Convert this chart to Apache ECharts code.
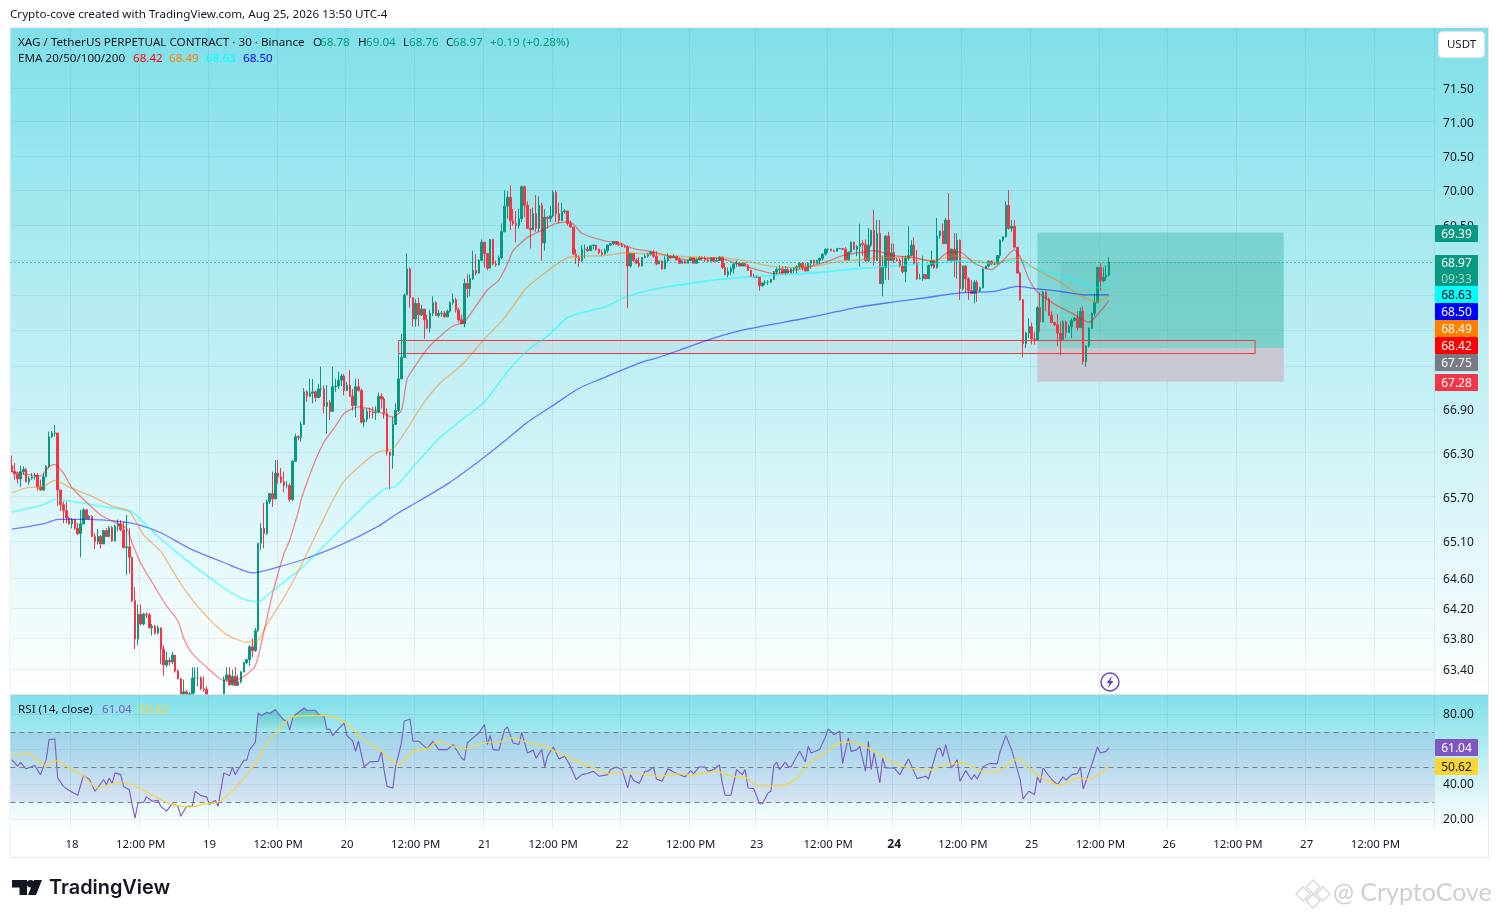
<!DOCTYPE html>
<html><head><meta charset="utf-8">
<style>html,body{margin:0;padding:0;background:#fff}#c{width:1498px;height:918px}</style>
<script src="https://cdn.jsdelivr.net/npm/echarts@6/dist/echarts.min.js"></script>
</head><body><div id="c"></div>
<script>
const firstOpen = 66.12;
const closes = [66.04,66.01,65.94,66.04,66.07,65.90,65.95,65.97,65.99,65.83,
65.79,65.97,66.11,66.52,66.57,66.57,65.79,65.59,65.51,65.41,
65.33,65.39,65.27,65.20,65.33,65.52,65.40,65.43,65.16,65.09,
65.16,65.06,65.24,65.16,65.28,65.10,65.30,65.33,65.25,65.01,
65.02,64.88,64.30,63.79,64.12,63.99,64.12,64.11,63.94,63.96,
63.87,63.94,63.66,63.45,63.51,63.49,63.58,63.37,63.27,63.03,
63.10,63.05,63.01,63.28,63.28,63.28,63.14,63.13,63.05,62.92,
62.85,62.80,62.88,62.95,63.26,63.32,63.19,63.30,63.18,63.23,
63.36,63.48,63.52,63.69,63.64,63.90,65.07,65.27,65.20,65.63,
65.74,65.67,66.02,65.97,65.90,65.85,65.85,65.66,66.18,66.52,
66.51,66.69,67.14,67.08,67.12,67.14,67.06,67.18,67.18,66.94,
66.99,66.87,67.21,67.22,67.30,67.36,67.16,67.23,67.08,66.95,
67.21,67.16,66.72,66.76,66.87,66.86,66.85,66.86,67.08,67.04,
66.84,66.31,66.26,66.69,66.88,67.32,67.62,68.50,68.87,68.46,
68.16,68.38,68.22,68.30,68.15,68.03,68.24,68.39,68.21,68.24,
68.24,68.19,68.27,68.39,68.43,68.29,68.15,68.09,68.66,68.59,
68.73,68.85,68.81,68.99,69.25,69.09,68.88,69.29,68.94,68.93,
69.03,69.40,69.77,69.90,69.56,69.52,69.49,69.59,70.05,69.78,
69.45,69.43,69.66,69.45,69.78,69.24,69.61,69.59,69.63,69.97,
69.66,69.56,69.69,69.70,69.52,69.47,69.08,69.03,68.99,69.15,
69.15,69.13,69.20,69.21,69.15,69.10,69.08,69.13,69.21,69.23,
69.26,69.22,69.21,69.19,69.18,68.91,69.09,68.99,68.95,68.91,
69.03,69.05,69.08,69.11,69.05,68.94,68.98,68.87,68.99,69.05,
69.03,69.05,69.00,68.95,68.98,68.95,68.99,69.03,68.95,69.00,
69.03,69.02,69.00,68.98,69.03,68.98,68.99,69.04,68.89,68.79,
68.83,68.87,68.94,68.95,68.91,68.95,68.92,68.85,68.76,68.75,
68.75,68.63,68.67,68.68,68.68,68.72,68.83,68.86,68.87,68.81,
68.86,68.81,68.87,68.88,68.90,68.95,68.89,68.84,68.95,68.99,
68.95,68.99,69.02,69.08,69.15,69.15,69.13,69.12,69.16,69.16,
69.15,69.00,69.11,69.25,69.15,69.19,69.23,69.22,68.99,69.21,
69.42,68.99,69.38,68.66,68.89,69.34,68.99,69.10,69.00,68.99,
68.91,68.83,69.02,69.06,69.21,68.95,68.73,68.73,68.79,68.73,
68.92,68.99,68.89,69.34,69.41,69.23,69.57,68.99,69.15,68.99,
69.28,68.59,68.91,68.73,68.56,68.52,68.68,68.56,68.60,68.87,
68.91,68.98,68.94,68.94,69.06,69.28,69.33,69.78,69.45,69.48,
69.18,68.81,68.43,67.81,67.96,68.05,67.88,67.87,68.32,68.12,
68.54,68.44,68.21,68.11,68.08,67.96,67.87,68.12,67.97,68.05,
68.14,68.17,68.04,68.27,67.56,67.78,68.03,68.24,68.39,68.89,
68.70,68.75,68.78,68.97];
const highs = [66.26,66.16,66.04,66.12,66.11,66.09,65.98,66.02,66.02,66.02,
65.93,66.02,66.13,66.59,66.60,66.68,66.57,65.79,65.63,65.63,
65.43,65.41,65.36,65.34,65.52,65.54,65.53,65.45,65.45,65.20,
65.26,65.18,65.25,65.27,65.30,65.30,65.32,65.39,65.38,65.36,
65.45,65.27,64.88,64.48,64.25,64.25,64.14,64.14,64.14,63.99,
63.98,63.97,63.94,63.71,63.62,63.55,63.62,63.58,63.39,63.28,
63.26,63.12,63.10,63.42,63.42,63.42,63.30,63.30,63.17,63.02,
62.98,62.95,63.00,63.03,63.30,63.42,63.42,63.39,63.42,63.32,
63.37,63.49,63.53,63.71,63.80,63.94,65.07,65.34,65.61,65.66,
65.75,66.04,66.20,66.20,66.09,66.04,65.91,65.88,66.20,66.56,
66.54,66.73,67.19,67.16,67.32,67.32,67.16,67.25,67.49,67.23,
67.23,67.02,67.49,67.32,67.42,67.39,67.39,67.28,67.44,67.18,
67.32,67.32,67.18,66.91,66.91,66.92,66.93,66.94,67.13,67.12,
67.07,66.91,66.31,66.79,66.98,67.67,67.95,68.52,69.09,68.89,
68.46,68.44,68.46,68.36,68.30,68.22,68.29,68.48,68.41,68.29,
68.27,68.27,68.29,68.41,68.52,68.46,68.32,68.22,68.73,68.79,
68.79,69.13,69.08,69.01,69.29,69.26,69.09,69.29,69.29,68.99,
69.06,69.52,70.00,69.99,70.07,69.73,69.70,69.73,70.07,70.07,
69.84,69.73,69.75,69.93,69.91,69.82,69.73,69.63,69.77,70.00,
70.00,69.82,69.82,69.73,69.70,69.56,69.47,69.15,69.06,69.21,
69.22,69.19,69.21,69.22,69.21,69.16,69.15,69.16,69.22,69.24,
69.27,69.26,69.26,69.24,69.21,69.20,69.10,69.10,69.02,69.04,
69.04,69.08,69.10,69.12,69.14,69.12,68.99,68.99,69.05,69.09,
69.06,69.08,69.06,69.03,69.00,68.99,69.00,69.04,69.03,69.02,
69.05,69.05,69.05,69.03,69.04,69.03,69.03,69.05,69.04,68.95,
68.89,68.90,68.95,68.99,68.96,68.96,68.96,68.94,68.86,68.80,
68.78,68.76,68.68,68.71,68.71,68.73,68.84,68.89,68.92,68.91,
68.91,68.89,68.88,68.89,68.92,68.97,68.96,68.95,68.96,69.00,
69.00,69.00,69.03,69.09,69.16,69.16,69.16,69.15,69.17,69.17,
69.16,69.18,69.12,69.26,69.26,69.21,69.52,69.28,69.29,69.45,
69.43,69.72,69.57,69.57,69.06,69.35,69.40,69.23,69.23,69.03,
69.02,69.05,69.06,69.48,69.28,69.32,69.14,68.80,69.06,68.79,
68.93,69.13,69.00,69.60,69.42,69.52,69.60,69.96,69.16,69.38,
69.38,69.29,68.92,68.92,68.75,68.71,68.71,68.71,68.62,68.88,
68.92,68.99,68.99,68.97,69.07,69.29,69.34,69.84,70.00,69.57,
69.57,69.18,68.83,68.44,67.98,68.17,68.11,67.98,68.34,68.53,
68.56,68.55,68.46,68.27,68.12,68.23,68.12,68.14,68.14,68.08,
68.17,68.19,68.27,68.32,68.34,67.79,68.04,68.25,68.52,68.90,
68.95,68.89,68.92,69.04];
const lows = [66.04,65.93,65.88,65.83,66.00,65.90,65.86,65.93,65.93,65.78,
65.78,65.78,65.97,66.09,66.50,66.52,65.57,65.50,65.34,65.34,
65.32,65.27,65.25,65.18,64.88,65.32,65.39,65.39,65.15,64.99,
65.05,65.00,65.06,65.15,65.15,65.09,65.09,65.23,65.23,65.00,
64.64,64.66,64.28,63.66,63.71,63.97,63.97,64.07,63.93,63.84,
63.85,63.85,63.46,63.31,63.42,63.44,63.46,63.35,63.26,62.94,
62.98,62.94,62.90,62.98,63.08,63.17,63.12,63.10,62.96,62.80,
62.75,62.72,62.75,62.82,62.98,63.23,63.18,63.18,63.18,63.18,
63.21,63.35,63.46,63.44,63.55,63.62,63.89,64.98,65.00,65.18,
65.60,65.56,65.66,65.88,65.88,65.76,65.81,65.63,65.64,66.18,
66.47,66.45,66.68,67.00,67.07,66.98,67.00,67.05,67.07,66.84,
66.56,66.75,66.86,67.14,67.18,67.22,67.09,67.15,67.07,66.88,
66.79,67.14,66.70,66.65,66.72,66.77,66.77,66.75,66.84,66.91,
66.77,66.26,65.80,66.08,66.68,66.86,67.32,67.62,68.50,68.32,
68.05,68.05,68.06,68.20,67.88,68.02,67.97,68.20,68.20,68.18,
68.19,68.18,68.19,68.25,68.36,68.25,68.11,68.09,68.04,68.46,
68.48,68.71,68.78,68.80,68.98,68.89,68.85,68.96,68.92,68.90,
68.92,69.01,69.40,69.59,69.43,69.49,69.25,69.45,69.54,69.61,
69.44,69.16,69.43,69.40,69.40,68.99,69.13,69.45,69.54,69.61,
69.54,69.52,69.56,69.66,69.49,69.46,69.07,68.94,68.90,68.97,
69.02,69.11,69.13,69.15,69.13,69.08,69.05,69.08,69.10,69.20,
69.21,69.21,69.20,69.18,69.17,68.31,68.89,68.97,68.95,68.89,
68.91,69.02,69.03,69.06,69.03,68.92,68.95,68.86,68.90,68.97,
69.01,69.03,68.99,68.94,68.95,68.95,68.95,68.99,68.95,68.95,
69.00,68.99,68.97,68.97,68.98,68.97,68.98,68.99,68.87,68.78,
68.75,68.78,68.80,68.90,68.90,68.91,68.91,68.84,68.75,68.75,
68.74,68.56,68.61,68.64,68.64,68.67,68.71,68.79,68.80,68.79,
68.78,68.80,68.81,68.81,68.81,68.87,68.84,68.83,68.84,68.87,
68.92,68.95,68.94,68.99,69.06,69.10,69.12,69.12,69.12,69.15,
69.14,68.99,68.99,69.10,69.14,69.05,68.90,69.06,68.97,68.97,
69.18,68.92,68.99,68.66,68.48,68.71,68.71,68.99,68.95,68.97,
68.89,68.81,68.68,68.99,69.05,68.94,68.71,68.72,68.70,68.72,
68.73,68.89,68.87,68.87,69.30,69.22,69.23,68.99,68.97,68.75,
68.73,68.43,68.56,68.53,68.43,68.51,68.38,68.40,68.54,68.59,
68.87,68.89,68.92,68.92,68.94,69.02,69.26,69.32,69.43,69.40,
69.16,68.80,68.42,67.62,67.75,67.89,67.80,67.80,67.87,67.98,
68.11,68.27,68.20,68.10,68.06,67.78,67.65,67.89,67.89,67.97,
67.89,68.12,68.00,68.03,67.52,67.49,67.76,68.02,68.20,68.38,
68.56,68.68,68.70,68.76];

const ema20 = [[0,66.04],[10,65.98],[13,66.11],[15,66.14],[18,66.02],[21,65.82],[24,65.70],[27,65.59],[31,65.45],[35,65.37],[40,65.27],[42,65.07],[45,64.80],[50,64.48],[54,64.23],[58,64.03],[60,63.80],[63,63.60],[68,63.42],[73,63.26],[77,63.24],[81,63.30],[85,63.44],[88,63.89],[91,64.39],[95,64.93],[97,65.11],[100,65.50],[101,65.66],[105,66.10],[109,66.45],[112,66.61],[116,66.84],[118,66.89],[121,66.93],[127,66.88],[133,66.79],[136,66.88],[138,67.32],[141,67.51],[145,67.74],[149,67.90],[154,68.06],[158,68.12],[162,68.34],[166,68.57],[170,68.71],[173,68.94],[175,69.13],[180,69.32],[185,69.42],[190,69.52],[195,69.54],[199,69.38],[207,69.27],[212,69.24],[217,69.16],[223,69.12],[229,69.06],[235,69.00],[242,69.02],[247,69.02],[253,68.95],[260,68.86],[266,68.80],[272,68.84],[279,68.91],[285,68.98],[290,69.06],[297,69.11],[301,69.13],[308,69.06],[315,69.03],[322,68.97],[327,69.11],[331,69.11],[336,68.95],[342,68.86],[345,68.95],[350,69.14],[352,69.04],[355,68.73],[358,68.54],[364,68.37],[371,68.22],[376,68.11],[380,68.27],[383,68.42]];
const ema50 = [[0,65.75],[5,65.82],[11,65.84],[15,65.92],[20,65.83],[27,65.72],[35,65.57],[41,65.50],[46,65.18],[52,64.96],[56,64.71],[61,64.41],[68,64.09],[75,63.85],[82,63.75],[86,63.78],[89,63.98],[95,64.34],[101,64.77],[111,65.57],[116,65.91],[123,66.17],[128,66.31],[133,66.35],[138,66.63],[144,67.00],[150,67.28],[157,67.51],[165,67.88],[171,68.13],[175,68.34],[179,68.57],[185,68.78],[193,69.01],[197,69.05],[207,69.06],[214,69.10],[223,69.08],[232,69.05],[242,69.03],[247,69.03],[255,68.99],[265,68.91],[274,68.89],[281,68.91],[288,68.97],[296,69.00],[302,69.03],[311,69.03],[322,68.99],[329,69.06],[336,68.99],[343,68.95],[351,69.03],[353,68.99],[358,68.85],[366,68.68],[373,68.49],[379,68.40],[383,68.49]];
const ema100 = [[0,65.49],[11,65.59],[15,65.66],[25,65.61],[34,65.55],[42,65.49],[51,65.16],[61,64.84],[74,64.47],[81,64.32],[86,64.28],[91,64.43],[101,64.73],[112,65.15],[123,65.57],[130,65.80],[134,65.84],[140,66.10],[149,66.49],[157,66.75],[165,67.00],[173,67.42],[180,67.72],[187,67.92],[194,68.18],[201,68.27],[207,68.33],[215,68.48],[224,68.58],[236,68.66],[247,68.72],[259,68.76],[271,68.79],[282,68.82],[294,68.87],[308,68.91],[319,68.94],[331,68.98],[343,68.95],[351,69.00],[354,68.92],[361,68.83],[371,68.71],[378,68.60],[383,68.63]];
const ema200 = [[0,65.26],[11,65.33],[16,65.39],[26,65.39],[38,65.36],[44,65.32],[52,65.21],[62,65.00],[74,64.81],[84,64.67],[93,64.75],[101,64.84],[115,65.05],[128,65.30],[135,65.48],[139,65.57],[152,65.87],[164,66.21],[173,66.49],[180,66.72],[190,66.98],[198,67.19],[205,67.31],[219,67.54],[225,67.61],[233,67.72],[245,67.89],[257,68.02],[277,68.17],[296,68.33],[308,68.40],[319,68.46],[331,68.53],[343,68.55],[351,68.62],[357,68.59],[366,68.55],[375,68.50],[383,68.50]];

const rsiIndex = [0,2,3,5,8,10,12,13,15,16,18,20,23,25,27,29,30,32,33,34,35,36,38,39,41,42,43,44,46,47,49,51,52,54,56,58,59,61,63,64,66,68,69,71,72,74,76,77,78,79,81,82,83,85,86,87,89,90,92,93,95,96,97,98,99,102,103,106,107,109,110,111,112,114,116,117,119,120,121,123,125,128,129,130,131,133,134,136,137,139,140,142,145,147,149,152,154,157,158,159,161,163,165,166,167,168,170,172,173,175,177,178,180,182,183,185,186,187,189,191,193,195,197,199,201,203,205,208,209,211,213,215,216,217,219,221,222,224,225,227,229,231,235,237,238,240,242,243,245,247,248,249,251,252,253,255,256,257,259,261,262,264,265,266,267,268,270,271,272,275,277,278,279,282,284,285,287,289,290,292,293,295,296,298,299,300,301,303,304,305,308,310,313,316,319,320,323,324,325,326,328,329,330,331,333,335,336,337,339,341,344,345,347,349,352,353,355,357,358,359,360,363,365,367,368,370,372,373,374,377,379,380,382,383];
const rsiValues = [54.2,50.4,52.6,48.9,50.8,45.6,54.2,65.6,66.0,43.7,38.9,36.5,33.8,45.0,43.1,36.1,38.0,42.8,39.9,43.7,40.5,46.6,45.6,38.9,37.0,28.5,20.8,29.4,29.8,32.9,30.4,30.9,27.5,24.7,29.0,27.5,21.8,27.5,27.5,36.1,33.6,32.9,28.5,30.9,27.5,46.6,45.0,49.8,45.6,48.5,53.8,53.8,59.9,64.1,80.9,79.3,81.2,80.5,82.8,80.5,76.7,76.7,71.0,78.0,79.9,83.7,82.4,82.4,79.9,79.0,71.3,71.7,67.9,71.7,75.1,67.9,64.7,58.9,64.7,50.0,52.9,53.2,58.9,47.5,38.9,38.0,50.4,63.7,76.1,77.4,64.7,64.7,60.3,64.7,59.9,59.9,62.8,55.1,53.8,63.7,66.6,69.4,74.2,62.8,67.9,59.9,59.5,71.3,72.9,63.7,62.8,69.8,58.0,59.5,55.1,59.9,50.0,56.1,61.4,54.6,56.1,50.4,42.8,45.6,46.2,47.5,44.7,45.6,48.5,50.0,48.5,38.0,45.6,42.4,40.5,47.5,47.5,50.0,43.1,41.8,48.9,47.1,44.3,47.9,46.2,50.0,50.0,47.5,48.5,51.1,40.9,33.8,33.8,40.9,48.5,45.6,48.5,38.0,37.6,29.0,29.0,35.1,36.1,50.8,52.7,48.5,52.7,50.4,50.0,58.9,52.9,61.8,58.0,59.9,67.1,71.7,68.5,70.4,51.9,66.6,58.9,59.9,61.8,47.5,64.7,48.5,58.0,40.9,55.1,49.4,49.4,45.6,54.6,43.3,44.7,43.1,59.9,60.8,56.1,62.8,49.4,51.3,54.2,41.8,47.9,42.8,45.6,43.1,50.0,51.9,51.9,58.9,67.9,59.9,42.8,31.7,36.1,34.2,44.3,40.9,49.4,42.8,39.9,44.3,42.4,45.6,46.2,50.0,37.4,51.3,61.4,58.0,58.9,61.04];
const rsiMa = [[0,57],[3,57],[5,58],[12,50.8],[15,53.6],[20,49.4],[25,45],[30,38],[38,41.4],[45,37.4],[51,32.3],[55,29],[62,27.1],[68,29],[72,29.8],[78,38],[84,49.4],[89,62.8],[93,71.3],[98,78.6],[103,79.3],[109,79.3],[116,75.7],[122,66.6],[129,58.9],[135,51.3],[140,58.9],[145,60.3],[149,64.7],[152,62.8],[158,60.3],[163,62.8],[166,64.1],[170,64.1],[174,66.6],[180,64.1],[187,60.9],[191,58],[196,54.2],[203,49.4],[208,46.2],[214,47.1],[220,46],[226,44.7],[233,46],[238,45.6],[246,47.5],[251,44.7],[256,44],[261,39],[269,39.3],[274,43.7],[279,53.2],[283,57],[289,63.7],[294,64.3],[299,60.9],[304,56.1],[311,50.4],[320,48.1],[325,50.8],[332,52.3],[340,47.1],[344,47.5],[351,54.6],[358,45.6],[366,39.5],[372,43.7],[376,43.1],[383,50.62]];

const priceTicks = [71.5,71,70.5,70,69.5,69,68.5,68,67.5,66.9,66.3,65.7,65.1,64.6,64.2,63.8,63.4];
const rsiTicks = [20,40,60,80];
const timeTickIndex = [21,45,69,93,117,141,165,189,213,237,260,285,308,332,356,380,404,428,452,476];
const timeTickLabels = ['18','12:00 PM','19','12:00 PM','20','12:00 PM','21','12:00 PM','22','12:00 PM','23','12:00 PM','24','12:00 PM','25','12:00 PM','26','12:00 PM','27','12:00 PM'];
const barSlots = 497;
const priceRange = [63.07, 72.39];
const rsiRange = [13.96, 91.1];
const demandZone = {from:135, to:434, top:67.857, bottom:67.674};
const position = {from:358, mid:366, to:444, target:69.39, last:68.97, entry:67.75, stop:67.28};
const lastPrice = 68.97;

const GREEN='#089981', RED='#F23645', FONT='"Noto Sans",sans-serif', INK='#131722';
const lp = Math.log;
const cats = Array.from({length:barSlots},(_,i)=>String(i));
const labelAt = {}; timeTickIndex.forEach((k,i)=>labelAt[k]=timeTickLabels[i]);
const floorClamp = v=>lp(Math.max(v,priceRange[0]));
const candles = closes.map((c,i)=>highs[i]<=priceRange[0]?['-','-','-','-']:[floorClamp(i?closes[i-1]:firstOpen),floorClamp(c),floorClamp(lows[i]),floorClamp(highs[i])]);
const toLn = a=>a.map(([k,v])=>[k,lp(v)]);
const rsi = rsiIndex.map((k,i)=>[k,rsiValues[i]]);
const rsiHigh = rsi.filter(([k])=>k>=84&&k<=111).map(([k,v])=>[k,Math.max(v,70)]);

const lineS = (name,data,color,w)=>({type:'line',name,data:toLn(data),xAxisIndex:0,yAxisIndex:0,smooth:0.2,showSymbol:false,symbol:'none',silent:true,z:3,lineStyle:{color,width:w||1.3},clip:true});

function txt(x,y,text,fill,size,extra){return Object.assign({type:'text',x,y,z:200,silent:true,style:{text,fill:fill||INK,font:(size||12)+'px '+FONT,textVerticalAlign:'middle',textAlign:'left'}},extra||{});}
function tag(y0,y1,bg,lines,fg){
  const out=[{type:'rect',z:190,silent:true,shape:{x:1435,y:y0,width:43,height:y1-y0,r:1},style:{fill:bg}}];
  lines.forEach((t,i)=>{const yc=y0+(y1-y0)*(i+.5)/lines.length+1;
    out.push({type:'text',x:1456.5,y:yc,z:200,silent:true,style:{text:t,fill:i?'rgba(255,255,255,.6)':(fg||'#fff'),font:'12px '+FONT,textAlign:'center',textVerticalAlign:'middle'}});});
  return out;
}
function poly(points,fill,stroke){return {type:'polygon',z:200,silent:true,shape:{points},style:stroke?{fill:'none',stroke,lineWidth:1.4}:{fill}};}
const bgGrad={type:'linear',x:0,y:0,x2:0,y2:1,colorStops:[{offset:0,color:'#7fdfe9'},{offset:1,color:'#ffffff'}]};

const graphics=[
 {type:'rect',z:-100,silent:true,shape:{x:10.5,y:28,width:1477.5,height:666},style:{fill:bgGrad}},
 {type:'rect',z:-100,silent:true,shape:{x:10.5,y:695,width:1477.5,height:135},style:{fill:bgGrad}},
 {type:'rect',z:-101,silent:true,shape:{x:10,y:27,width:1478.5,height:830.5},style:{fill:'#fff',stroke:'#e6e8ec',lineWidth:1}},
 {type:'line',z:-99,silent:true,shape:{x1:10.5,y1:694.5,x2:1488,y2:694.5},style:{stroke:'#e0e3eb',lineWidth:1}},
 txt(10,15,'Crypto-cove created with TradingView.com, Aug 25, 2026 13:50 UTC-4',INK,11.65),
 txt(18,42.5,'XAG / TetherUS PERPETUAL CONTRACT · 30 · Binance',INK,11.65),
 txt(313,42.5,'O',INK,11.65),txt(320,42.5,'68.78',GREEN,11.65),
 txt(358,42.5,'H',INK,11.65),txt(366,42.5,'69.04',GREEN,11.65),
 txt(403,42.5,'L',INK,11.65),txt(409,42.5,'68.76',GREEN,11.65),
 txt(446,42.5,'C',INK,11.65),txt(453,42.5,'68.97',GREEN,11.65),
 txt(490,42.5,'+0.19 (+0.28%)',GREEN,11.65),
 txt(18,59,'EMA 20/50/100/200',INK,11.65),
 txt(133,59,'68.42','#ff0000',11.65),txt(169,59,'68.49','#ff7f00',11.65),txt(206,59,'68.63','#00ffff',11.65),txt(243,59,'68.50','#0000ff',11.65),
 txt(18,710,'RSI (14, close)',INK,11.65),txt(102,710,'61.04','#7e57c2',11.65),txt(139,710,'50.62','#fbd536',11.65),
 {type:'rect',z:190,silent:true,shape:{x:1438.5,y:31.5,width:46,height:26,r:4},style:{fill:'#fff',stroke:'#e0e3eb',lineWidth:1}},
 {type:'text',x:1461.5,y:45,z:200,silent:true,style:{text:'USDT',fill:INK,font:'11.5px '+FONT,textAlign:'center',textVerticalAlign:'middle'}},
 ...tag(225,242,GREEN,['69.39']),
 ...tag(255,286,GREEN,['68.97','09:33']),
 ...tag(286,303,'#00ffff',['68.63'],'#000'),
 ...tag(303,320,'#0000ff',['68.50']),
 ...tag(320,337,'#ff7f00',['68.49']),
 ...tag(337,354,'#ff0000',['68.42']),
 ...tag(354,371,'#787b86',['67.75']),
 ...tag(374,391,RED,['67.28']),
 ...tag(739,756,'#7e57c2',['61.04']),
 ...tag(758,775,'#fbd536',['50.62'],'#131722'),
 {type:'circle',z:200,silent:true,shape:{cx:1110,cy:682,r:9},style:{fill:'rgba(255,255,255,.6)',stroke:'#6a3fb5',lineWidth:1.4}},
 poly([[1112,676],[1106.5,683],[1109.5,683],[1108,688],[1113.5,681],[1110.5,681]],'#6a3fb5'),
 poly([[12,880],[27,880],[27,895],[19.5,895],[19.5,887.5],[12,887.5]],'#131722'),
 poly([[42,880],[36,895],[28,895],[34,880]],'#131722'),
 {type:'circle',z:200,silent:true,shape:{cx:30.5,cy:883.8,r:3.7},style:{fill:'#131722'}},
 {type:'text',x:49,y:888,z:200,silent:true,style:{text:'TradingView',fill:'#131722',font:'600 19.9px Inter,sans-serif',textVerticalAlign:'middle'}},
 poly([[1313,880],[1320,887],[1313,894],[1306,887]],null,'#d8d8d8'),
 poly([[1303,887],[1310,894],[1303,901],[1296,894]],null,'#d8d8d8'),
 poly([[1323,887],[1330,894],[1323,901],[1316,894]],null,'#d8d8d8'),
 poly([[1313,894],[1320,901],[1313,908],[1306,901]],null,'#d8d8d8'),
 {type:'text',x:1333,y:893,z:200,silent:true,style:{text:'@ CryptoCove',fill:'#cfcfcf',font:'25px Lato,sans-serif',textVerticalAlign:'middle'}}
];

const chart=echarts.init(document.getElementById('c'),null,{renderer:'canvas'});
const gridColor='rgba(42,46,57,0.07)';
chart.setOption({
 animation:false,
 backgroundColor:'#fff',
 graphic:{elements:graphics},
 grid:[{left:10.41,top:28,width:1423.7,height:666},{left:10.41,top:695,width:1423.7,height:135}],
 xAxis:[
  {type:'category',gridIndex:0,data:cats,boundaryGap:true,axisLine:{show:false},
   axisTick:{show:false,customValues:timeTickIndex,alignWithLabel:true},
   axisLabel:{show:false,customValues:timeTickIndex},
   splitLine:{show:true,lineStyle:{color:gridColor,width:1}}},
  {type:'category',gridIndex:1,data:cats,boundaryGap:true,axisLine:{show:false},
   axisTick:{show:false,customValues:timeTickIndex,alignWithLabel:true},
   axisLabel:{show:true,customValues:timeTickIndex,color:INK,fontFamily:'"Noto Sans",sans-serif',fontSize:11.4,margin:9,hideOverlap:false,
     formatter:v=>{const t=labelAt[v]||'';return t==='24'?'{b|24}':t;},rich:{b:{fontWeight:'bold',fontSize:12,color:INK,fontFamily:'"Noto Sans",sans-serif'}}},
   splitLine:{show:true,lineStyle:{color:gridColor,width:1}}}
 ],
 yAxis:[
  {type:'value',gridIndex:0,position:'right',min:lp(priceRange[0]),max:lp(priceRange[1]),scale:true,axisLine:{show:false},
   axisTick:{show:false,customValues:priceTicks.map(lp)},
   axisLabel:{customValues:priceTicks.map(lp),color:INK,fontFamily:'"Noto Sans",sans-serif',fontSize:12,margin:9,showMinLabel:true,showMaxLabel:true,
     formatter:v=>'{a|'+Math.exp(v).toFixed(2)+'}',rich:{a:{padding:[3,0,0,0],color:INK,fontFamily:'"Noto Sans",sans-serif',fontSize:12}}},
   splitLine:{show:true,lineStyle:{color:gridColor,width:1}}},
  {type:'value',gridIndex:1,position:'right',min:rsiRange[0],max:rsiRange[1],axisLine:{show:false},
   axisTick:{show:false,customValues:rsiTicks},
   axisLabel:{customValues:rsiTicks,color:INK,fontFamily:'"Noto Sans",sans-serif',fontSize:12,margin:9,formatter:v=>Number(v).toFixed(2)},
   splitLine:{show:true,lineStyle:{color:gridColor,width:1}}}
 ],
 series:[
  {type:'candlestick',name:'XAG',xAxisIndex:0,yAxisIndex:0,data:candles,barWidth:2,silent:true,z:2,clip:true,
   itemStyle:{color:GREEN,color0:RED,borderColor:GREEN,borderColor0:RED,borderWidth:1},
   markLine:{silent:true,symbol:'none',precision:8,label:{show:false},lineStyle:{color:GREEN,type:[1,3],width:1},data:[{yAxis:lp(lastPrice)}],z:4},
   markArea:{silent:true,z:1,data:[
    [{coord:[position.from,lp(position.target)],itemStyle:{color:'rgba(8,153,129,0.28)'}},{coord:[position.to,lp(position.entry)]}],
    [{coord:[position.mid,lp(position.last)],itemStyle:{color:'rgba(8,153,129,0.10)'}},{coord:[position.to,lp(position.entry)]}],
    [{coord:[position.from,lp(position.entry)],itemStyle:{color:'rgba(200,197,208,0.95)'}},{coord:[position.to,lp(position.stop)]}],
    [{coord:[demandZone.from,lp(demandZone.top)],itemStyle:{color:'rgba(200,200,200,0.22)',borderColor:RED,borderWidth:1}},{coord:[demandZone.to,lp(demandZone.bottom)]}]
   ]}},
  lineS('EMA 200',ema200,'rgba(0,0,255,0.5)'),
  lineS('EMA 100',ema100,'rgba(0,255,255,0.5)',1.6),
  lineS('EMA 50',ema50,'rgba(255,127,0,0.5)'),
  lineS('EMA 20',ema20,'rgba(255,0,0,0.45)'),
  {type:'line',name:'RSI high',xAxisIndex:1,yAxisIndex:1,data:rsiHigh,showSymbol:false,symbol:'none',silent:true,z:2,lineStyle:{width:0},
   areaStyle:{origin:70,color:{type:'linear',x:0,y:0,x2:0,y2:1,colorStops:[{offset:0,color:'rgba(8,153,129,0.55)'},{offset:1,color:'rgba(8,153,129,0)'}]}}},
  {type:'line',name:'RSI',xAxisIndex:1,yAxisIndex:1,data:rsi,showSymbol:false,symbol:'none',silent:true,z:4,lineStyle:{color:'#7e57c2',width:1.1},
   markArea:{silent:true,z:1,itemStyle:{color:'rgba(126,87,194,0.13)'},data:[[{yAxis:70},{yAxis:30}]]},
   markLine:{silent:true,symbol:'none',label:{show:false},lineStyle:{color:'#787b86',type:[5,4],width:1},data:[{yAxis:70},{yAxis:50},{yAxis:30}]}},
  {type:'line',name:'RSI MA',xAxisIndex:1,yAxisIndex:1,data:rsiMa,smooth:0.3,showSymbol:false,symbol:'none',silent:true,z:5,lineStyle:{color:'#fbd536',width:1.2}}
 ]
});
if(closes.length!==384||highs.length!==384||lows.length!==384||rsiIndex.length!==rsiValues.length){throw new Error('len '+closes.length+' '+highs.length+' '+lows.length+' '+rsiIndex.length+' '+rsiValues.length);}
</script></body></html>
